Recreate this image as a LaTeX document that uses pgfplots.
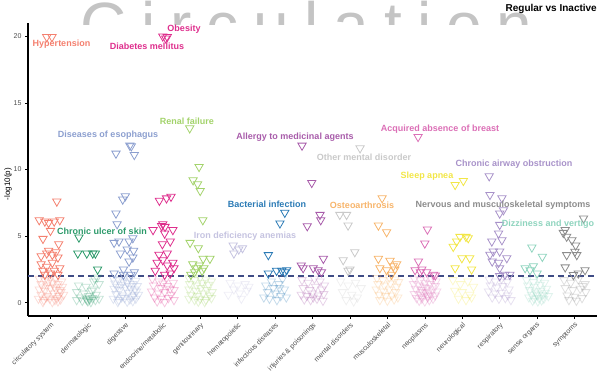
\documentclass[border=0pt]{standalone}
\usepackage{pgfplots}
\pgfplotsset{compat=1.18}
\usepackage{fontspec}
\setmainfont{Liberation Sans}
\definecolor{c0}{HTML}{F4806F}
\definecolor{c1}{HTML}{2C9A6A}
\definecolor{c2}{HTML}{8C9FCF}
\definecolor{c3}{HTML}{DE2F8D}
\definecolor{c4}{HTML}{A3D36B}
\definecolor{c5}{HTML}{C5C3E0}
\definecolor{c6}{HTML}{2A7AB5}
\definecolor{c7}{HTML}{A85CAA}
\definecolor{c8}{HTML}{C9C9C9}
\definecolor{c9}{HTML}{F7B46A}
\definecolor{c10}{HTML}{DB6FB6}
\definecolor{c11}{HTML}{F2E646}
\definecolor{c12}{HTML}{A892C9}
\definecolor{c13}{HTML}{8FD4BE}
\definecolor{c14}{HTML}{8C8C8C}
\definecolor{dashc}{HTML}{3F4C85}
\definecolor{tickc}{HTML}{4D4D4D}
\pgfplotsset{
 sig/.style={only marks, mark=triangle, mark size=4.8pt, color=#1, mark options={rotate=180, line width=0.8pt, fill=none}},
 ns/.style={only marks, mark=triangle, mark size=4.8pt, color=#1, mark options={rotate=180, line width=0.8pt, fill=none, draw opacity=0.28}},
}
\newcommand{\lab}[4]{\node[text=#3, font=\fontsize{9}{9}\selectfont\bfseries, inner sep=0] at (#1pt,#2pt) {#4};}
\begin{document}
\begin{tikzpicture}
\def\g{\hspace{15pt}}
\begin{scope}
\clip (0pt,350pt) rectangle (600pt,375pt);
\node[anchor=base west, inner sep=0, text=black!23, font=\fontsize{64}{64}\selectfont] at (80pt,327pt) {C\g i\g r\g c\g u\g l\g a\g t\g i\g o\g n};
\end{scope}
\begin{axis}[
 at={(28pt,59pt)}, anchor=south west, scale only axis, width=569pt, height=293pt,
 xmin=-0.6, xmax=14.6, ymin=-1, ymax=21,
 axis lines*=left, axis line style={line width=1.2pt, black},
 xtick={0,...,14},
 xticklabels={circulatory system,dermatologic,digestive,endocrine/metabolic,genitourinary,hematopoietic,infectious diseases,injuries \& poisonings,mental disorders,musculoskeletal,neoplasms,neurological,respiratory,sense organs,symptoms},
 ytick={0,5,10,15,20},
 tick align=outside, major tick length=3pt, tick style={line width=0.6pt, black},
 x tick label style={rotate=45, anchor=north east, font=\fontsize{7}{7}\selectfont, text=tickc, inner sep=2pt},
 y tick label style={font=\fontsize{7}{7}\selectfont, text=tickc},
 /pgf/number format/assume math mode=true,
 ylabel={-log10(p)},
 ylabel style={at={(axis description cs:-0.035,0.45)}, anchor=center, font=\fontsize{8}{8}\selectfont},
]
% non-significant (faded)
\addplot[ns=c0] coordinates {(-0.30,1.80) (-0.15,1.70) (0.00,1.90) (0.15,1.80) (0.30,1.60) (-0.25,1.40) (-0.10,1.30) (0.05,1.50) (0.20,1.40) (0.32,1.20) (-0.30,1.00) (-0.15,0.90) (0.00,1.10) (0.15,1.00) (0.28,0.80) (-0.25,0.60) (-0.08,0.50) (0.08,0.70) (0.22,0.50) (0.35,0.60) (-0.32,0.30) (-0.18,0.20) (-0.02,0.30) (0.12,0.20) (0.27,0.25) (-0.20,0.05) (0.05,0.05) (0.20,0.10) (-0.05,1.60) (0.10,1.20) (-0.20,1.15) (0.25,0.95) (-0.12,0.40) (0.18,0.35)};
\addplot[ns=c1] coordinates {(0.75,1.30) (0.95,1.20) (1.15,1.60) (1.25,1.90) (1.30,1.40) (0.70,0.80) (0.90,0.70) (1.10,0.90) (1.22,0.60) (0.80,0.40) (0.95,0.30) (1.05,0.25) (1.12,0.35) (1.20,0.20) (0.85,0.15) (1.00,0.10) (1.08,0.05) (1.30,0.30) (0.70,0.20) (1.02,0.50) (1.15,1.00) (1.18,1.80) (0.98,0.18) (1.04,0.32)};
\addplot[ns=c2] coordinates {(1.68,1.80) (1.82,1.70) (1.98,1.95) (2.12,1.85) (2.28,1.65) (1.72,1.45) (1.88,1.35) (2.05,1.50) (2.20,1.40) (2.32,1.25) (1.70,1.05) (1.85,0.95) (2.00,1.15) (2.15,1.05) (2.30,0.85) (1.75,0.65) (1.92,0.55) (2.08,0.75) (2.22,0.55) (2.35,0.60) (1.68,0.30) (1.82,0.20) (1.98,0.35) (2.12,0.25) (2.28,0.30) (1.80,0.05) (2.05,0.08) (2.20,0.12) (1.95,1.60) (2.10,1.25) (1.78,1.20) (2.25,1.00) (1.90,0.40) (2.18,0.45)};
\addplot[ns=c3] coordinates {(2.72,1.80) (2.90,1.60) (3.10,1.85) (3.28,1.50) (2.75,1.30) (2.95,1.10) (3.12,1.25) (3.30,0.95) (2.70,0.85) (2.88,0.70) (3.05,0.80) (3.22,0.60) (2.78,0.40) (2.95,0.30) (3.15,0.35) (3.30,0.20) (2.85,0.10) (3.05,0.05) (3.20,1.05) (3.00,1.45)};
\addplot[ns=c4] coordinates {(3.70,1.85) (3.85,1.70) (4.00,1.90) (4.15,1.75) (4.30,1.60) (3.72,1.40) (3.90,1.30) (4.05,1.50) (4.22,1.35) (3.70,1.00) (3.88,0.90) (4.02,1.10) (4.18,0.95) (4.32,0.80) (3.75,0.60) (3.92,0.50) (4.08,0.70) (4.25,0.55) (3.70,0.30) (3.85,0.20) (4.00,0.30) (4.15,0.22) (4.30,0.35) (3.95,0.08) (4.12,0.05)};
\addplot[ns=c5] coordinates {(4.80,1.50) (5.00,1.30) (5.20,1.40) (4.90,1.00) (5.25,0.90) (5.10,0.30) (4.75,0.60) (5.05,0.70) (5.30,1.20)};
\addplot[ns=c6] coordinates {(5.75,1.30) (5.90,1.60) (6.10,1.40) (6.25,1.00) (5.80,0.80) (6.00,0.70) (6.15,0.50) (5.85,0.30) (6.05,0.20) (6.30,0.40) (6.20,1.80) (5.70,0.40) (6.12,1.10) (5.95,1.10)};
\addplot[ns=c7] coordinates {(6.72,1.70) (6.88,1.50) (7.05,1.80) (7.20,1.60) (7.32,1.30) (6.75,1.10) (6.92,0.95) (7.08,1.20) (7.25,1.00) (6.70,0.60) (6.85,0.50) (7.00,0.70) (7.15,0.55) (7.30,0.65) (6.78,0.25) (6.95,0.20) (7.12,0.30) (7.28,0.15) (7.02,0.40)};
\addplot[ns=c8] coordinates {(7.75,1.60) (7.95,1.30) (8.15,1.50) (8.30,1.10) (7.80,0.80) (8.05,0.60) (8.20,0.40) (7.90,0.20) (8.10,0.10)};
\addplot[ns=c9] coordinates {(8.72,1.85) (8.88,1.70) (9.05,1.90) (9.20,1.75) (9.30,1.55) (8.75,1.40) (8.92,1.30) (9.08,1.45) (9.25,1.20) (8.70,1.00) (8.90,0.85) (9.05,1.00) (9.22,0.80) (8.78,0.60) (8.95,0.50) (9.12,0.55) (9.28,0.40) (8.80,0.20) (9.00,0.15) (9.18,0.25)};
\addplot[ns=c10] coordinates {(9.72,1.80) (9.88,1.70) (10.02,1.90) (10.18,1.75) (10.30,1.60) (9.70,1.40) (9.85,1.30) (10.00,1.50) (10.15,1.40) (10.28,1.25) (9.75,1.05) (9.90,0.95) (10.05,1.10) (10.20,1.00) (10.32,0.85) (9.72,0.65) (9.88,0.60) (10.02,0.75) (10.15,0.60) (10.28,0.55) (9.78,0.35) (9.92,0.30) (10.08,0.40) (10.22,0.30) (9.85,0.15) (10.00,0.10) (10.12,0.20) (9.95,0.80) (10.10,0.85) (9.98,1.20) (10.08,0.50) (9.92,0.45)};
\addplot[ns=c11] coordinates {(10.75,1.70) (10.95,1.40) (11.15,1.60) (11.30,1.20) (10.80,0.90) (11.00,0.80) (11.20,0.60) (10.90,0.30) (11.10,0.20) (11.25,0.40)};
\addplot[ns=c12] coordinates {(11.72,1.75) (11.88,1.60) (12.05,1.80) (12.20,1.55) (11.75,1.30) (11.92,1.15) (12.08,1.25) (12.25,1.00) (11.70,0.85) (11.88,0.70) (12.05,0.75) (12.22,0.55) (11.80,0.40) (11.98,0.30) (12.15,0.35) (12.30,0.20)};
\addplot[ns=c13] coordinates {(12.72,1.70) (12.90,1.55) (13.05,1.80) (13.20,1.50) (12.75,1.30) (12.92,1.20) (13.08,1.35) (13.25,1.05) (12.80,0.95) (12.95,0.85) (13.10,0.90) (13.22,0.75) (12.85,0.60) (13.00,0.55) (13.15,0.60) (12.78,0.40) (12.92,0.30) (13.05,0.35) (13.18,0.30) (12.88,0.15) (13.02,0.10) (13.12,0.18) (12.98,0.70) (13.30,0.50)};
\addplot[ns=c14] coordinates {(13.72,1.70) (13.90,1.50) (14.10,1.75) (14.28,1.40) (13.75,1.10) (13.95,0.95) (14.15,1.05) (14.30,0.80) (13.80,0.55) (14.00,0.45) (14.20,0.35) (13.85,0.20) (14.05,0.15) (14.22,1.25)};
% significant
\addplot[sig=c0] coordinates {(-0.10,19.95) (0.04,19.95) (0.17,7.60) (-0.30,6.20) (-0.15,6.10) (-0.05,6.00) (0.10,6.10) (0.25,6.20) (0.00,5.40) (-0.20,4.80) (0.22,4.40) (-0.25,3.50) (-0.10,3.70) (0.05,3.60) (0.20,3.40) (-0.05,3.90) (0.15,3.80) (-0.25,2.90) (-0.10,2.70) (0.05,3.00) (0.25,2.60) (-0.20,2.40) (0.10,2.40) (0.00,2.20) (0.20,2.10) (-0.15,2.10)};
\addplot[sig=c1] coordinates {(0.76,4.90) (0.73,3.70) (0.97,3.70) (1.13,3.70) (1.20,3.70) (1.26,2.50)};
\addplot[sig=c2] coordinates {(1.75,11.20) (2.12,11.80) (2.16,11.75) (2.24,11.10) (2.00,8.00) (1.93,7.75) (1.75,6.70) (1.78,5.90) (1.83,4.60) (2.10,4.60) (2.20,4.85) (1.87,3.70) (2.22,3.90) (2.20,3.40) (2.10,3.10) (1.95,2.50) (2.24,2.30) (1.70,2.20) (1.95,2.10) (2.15,2.10) (2.05,4.00) (1.70,4.50)};
\addplot[sig=c3] coordinates {(3.00,20.00) (3.08,19.85) (3.12,19.95) (2.91,7.66) (3.10,7.84) (3.22,7.96) (2.74,5.46) (2.97,5.76) (3.06,5.70) (3.27,5.46) (3.00,5.90) (2.99,4.40) (3.20,4.60) (3.05,5.20) (2.90,3.60) (3.12,3.70) (3.00,3.20) (3.27,3.00) (3.12,2.80) (2.80,2.40) (3.30,2.60) (3.05,2.10) (2.85,3.00) (3.20,2.20)};
\addplot[sig=c4] coordinates {(3.72,13.10) (3.97,10.20) (3.81,9.20) (3.93,8.90) (4.00,8.40) (4.07,6.20) (3.73,4.50) (3.95,4.10) (4.08,3.30) (4.26,3.30) (3.80,2.90) (3.90,2.60) (3.98,2.80) (4.05,2.40) (3.85,2.30) (4.10,2.60) (3.75,2.10)};
\addplot[sig=c5] coordinates {(4.88,4.30) (5.03,4.00) (5.13,4.10) (4.90,3.70)};
\addplot[sig=c6] coordinates {(6.26,6.76) (6.13,5.96) (5.82,3.58) (5.82,2.20) (6.04,2.40) (6.18,2.40) (6.26,2.30) (6.31,2.45)};
\addplot[sig=c7] coordinates {(6.72,11.80) (6.98,9.00) (7.20,6.60) (7.22,6.20) (6.86,5.75) (7.29,3.30) (6.70,2.80) (6.75,2.60) (7.02,2.60) (7.15,2.45) (7.24,2.30)};
\addplot[sig=c8] coordinates {(8.27,11.60) (7.73,6.60) (7.91,6.60) (7.95,5.80) (8.13,3.80) (7.82,3.20) (7.95,2.40) (8.00,2.50)};
\addplot[sig=c9] coordinates {(8.86,7.85) (8.76,5.80) (8.98,5.30) (8.76,3.30) (9.07,3.15) (9.16,2.75) (8.98,2.45) (9.20,2.50) (9.11,2.10) (8.80,2.60) (9.25,2.90)};
\addplot[sig=c10] coordinates {(9.82,12.45) (10.07,5.50) (10.00,4.45) (9.83,3.10) (9.74,2.45) (9.92,2.50) (10.05,2.30) (10.23,2.10) (10.28,2.05) (9.88,2.30)};
\addplot[sig=c11] coordinates {(10.81,8.85) (11.03,9.15) (10.94,4.95) (11.16,4.85) (10.76,4.20) (10.85,4.60) (11.10,4.95) (10.99,3.35) (11.20,3.35) (10.81,2.60) (11.25,2.50)};
\addplot[sig=c12] coordinates {(11.72,9.50) (11.74,8.10) (12.06,7.85) (12.00,6.70) (12.10,6.95) (12.00,5.85) (11.97,5.20) (12.06,4.70) (11.79,4.60) (11.83,3.85) (12.00,3.85) (12.19,3.35) (11.74,3.60) (11.97,3.00) (12.00,2.60) (12.14,2.10) (12.27,2.10) (12.00,2.00) (11.80,3.10)};
\addplot[sig=c13] coordinates {(12.86,4.15) (13.14,3.45) (12.68,2.60) (12.81,2.45) (13.00,2.20) (12.90,2.75)};
\addplot[sig=c14] coordinates {(14.24,6.33) (13.75,5.46) (13.79,4.96) (13.93,4.70) (13.70,5.25) (14.01,3.83) (13.79,3.58) (14.06,3.58) (13.75,2.66) (14.28,2.45) (14.10,2.20) (13.97,2.08) (14.03,4.30)};
% threshold
\addplot[dashc, line width=1.2pt, dash pattern=on 6pt off 4pt, no marks] coordinates {(-0.6,2) (14.6,2)};
\end{axis}
\lab{61.5}{331}{c0}{Hypertension}
\lab{184}{346}{c3}{Obesity}
\lab{147}{329}{c3}{Diabetes mellitus}
\lab{187}{254}{c4}{Renal failure}
\lab{108}{240}{c2}{Diseases of esophagus}
\lab{295}{238}{c7}{Allergy to medicinal agents}
\lab{440}{246}{c10}{Acquired absence of breast}
\lab{364}{218}{c8}{Other mental disorder}
\lab{514}{211}{c12}{Chronic airway obstruction}
\lab{427}{199}{c11}{Sleep apnea}
\lab{267}{171}{c6}{Bacterial infection}
\lab{362}{170}{c9}{Osteoarthrosis}
\lab{503}{170}{c14}{Nervous and musculoskeletal symptoms}
\lab{548}{151}{c13}{Dizziness and vertigo}
\lab{102}{144}{c1}{Chronic ulcer of skin}
\lab{245}{139}{c5}{Iron deficiency anemias}
\node[anchor=east, inner sep=0, font=\fontsize{10}{10}\selectfont\bfseries] at (597pt,366pt) {Regular vs Inactive};
\pgfresetboundingbox
\path[use as bounding box] (0pt,0pt) rectangle (600pt,375pt);
\end{tikzpicture}
\end{document}
